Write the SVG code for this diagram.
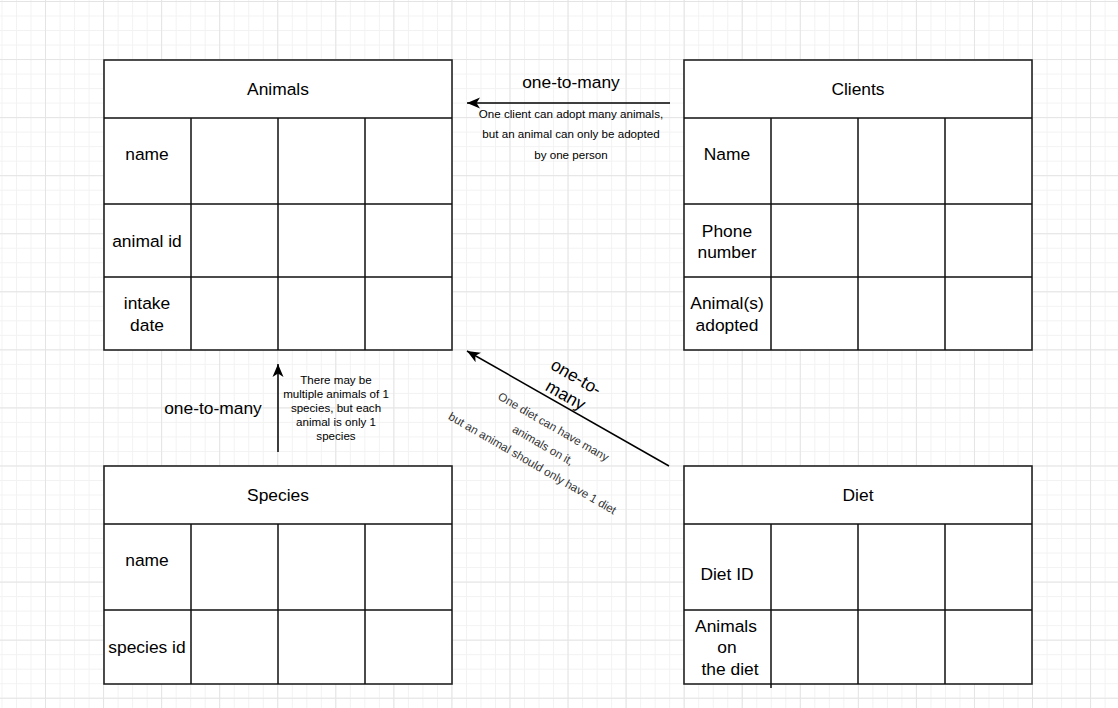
<svg xmlns="http://www.w3.org/2000/svg" width="1118" height="708" viewBox="0 0 1118 708">
<style>
.box{fill:#fff;stroke:#222;stroke-width:1.6}
.ln{stroke:#111;stroke-width:1.5;fill:none}
.t{font-family:"Liberation Sans",Arial,sans-serif;font-size:17.4px;fill:#000;text-anchor:middle}
.s{font-family:"Liberation Sans",Arial,sans-serif;font-size:11.6px;fill:#000;text-anchor:middle}
.d{font-family:"Liberation Sans",Arial,sans-serif;font-size:11.6px;fill:#333;text-anchor:middle}
.edge{stroke:#000;stroke-width:1.5;fill:none;marker-end:url(#arr)}
</style>
<defs>
<pattern id="minor" patternUnits="userSpaceOnUse" x="1.5" y="1" width="14.515" height="14.515">
<path d="M0.5,0 V14.515 M0,0.5 H14.515" stroke="#f2f2f2" stroke-width="1" fill="none"/>
</pattern>
<pattern id="major" patternUnits="userSpaceOnUse" x="45" y="1" width="58.06" height="58.06">
<path d="M0.5,0 V58.06 M0,0.5 H58.06" stroke="#e4e4e4" stroke-width="1" fill="none"/>
</pattern>
<marker id="arr" markerUnits="userSpaceOnUse" markerWidth="14" markerHeight="12" refX="13" refY="6" orient="auto">
<path d="M0,0.5 L13,6 L0,11.5 L3.5,6 Z" fill="#000"/>
</marker>
</defs>
<rect width="1118" height="708" fill="#fff"/>
<rect width="1118" height="708" fill="url(#minor)"/>
<rect width="1118" height="708" fill="url(#major)"/>

<g id="animals">
<rect class="box" x="104" y="60" width="348" height="290"/>
<path class="ln" d="M104,118 H452 M104,204 H452 M104,277 H452 M191,118 V350 M278,118 V350 M365,118 V350"/>
<text class="t" x="278" y="95">Animals</text>
<text class="t" x="147" y="160">name</text>
<text class="t" x="147" y="247">animal id</text>
<text class="t" x="147" y="309">intake</text>
<text class="t" x="147" y="331">date</text>
</g>

<g id="clients">
<rect class="box" x="684" y="60" width="348" height="290"/>
<path class="ln" d="M684,118 H1032 M684,204 H1032 M684,277 H1032 M771,118 V350 M858,118 V350 M945,118 V350"/>
<text class="t" x="858" y="95">Clients</text>
<text class="t" x="727" y="160">Name</text>
<text class="t" x="727" y="237">Phone</text>
<text class="t" x="727" y="258">number</text>
<text class="t" x="727" y="309">Animal(s)</text>
<text class="t" x="727" y="331">adopted</text>
</g>

<g id="species">
<rect class="box" x="104" y="466" width="348" height="218"/>
<path class="ln" d="M104,524 H452 M104,610 H452 M191,524 V684 M278,524 V684 M365,524 V684"/>
<text class="t" x="278" y="501">Species</text>
<text class="t" x="147" y="566">name</text>
<text class="t" x="147" y="653">species id</text>
</g>

<g id="diet">
<rect class="box" x="684" y="466" width="348" height="218"/>
<path class="ln" d="M684,524 H1032 M684,610 H1032 M771,524 V688 M858,524 V684 M945,524 V684"/>
<text class="t" x="858" y="501">Diet</text>
<text class="t" x="727" y="580">Diet ID</text>
<text class="t" x="726" y="632">Animals</text>
<text class="t" x="727" y="653">on</text>
<text class="t" x="730" y="675">the diet</text>
</g>

<g id="connectors">
<line class="edge" x1="670" y1="103" x2="467" y2="103"/>
<line class="edge" x1="278" y1="452" x2="278" y2="364"/>
<line class="edge" x1="669" y1="466" x2="467" y2="351"/>
</g>

<g id="labels">
<text class="t" x="571" y="88">one-to-many</text>
<text class="s" x="571" y="118">One client can adopt many animals,</text>
<text class="s" x="571" y="138">but an animal can only be adopted</text>
<text class="s" x="571" y="159">by one person</text>

<text class="t" x="213" y="414">one-to-many</text>
<text class="s" x="336" y="384">There may be</text>
<text class="s" x="336" y="398">multiple animals of 1</text>
<text class="s" x="336" y="412">species, but each</text>
<text class="s" x="336" y="426">animal is only 1</text>
<text class="s" x="336" y="440">species</text>

<g transform="translate(571,386) rotate(30)">
<text class="t" x="0" y="-4.5">one-to-</text>
<text class="t" x="0" y="16.5">many</text>
</g>
<g transform="translate(543,445) rotate(30)">
<text class="d" x="0" y="-17">One diet can have many</text>
<text class="d" x="0" y="4">animals on it,</text>
<text class="d" x="0" y="25">but an animal should only have 1 diet</text>
</g>
</g>
</svg>
